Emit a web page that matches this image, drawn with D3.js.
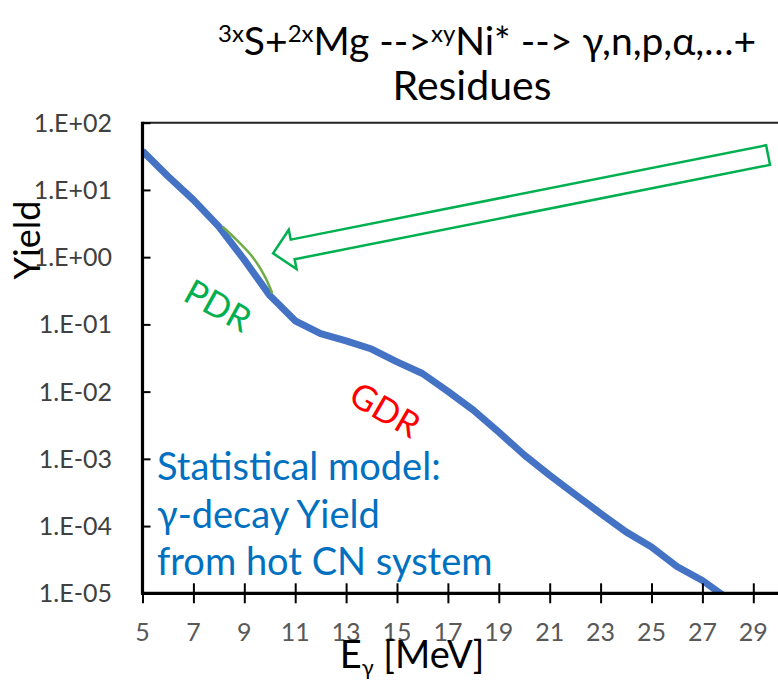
<!DOCTYPE html>
<html>
<head>
<meta charset="utf-8">
<script src="https://cdn.jsdelivr.net/npm/d3@7"></script>
<style>
  body { margin: 0; background: #fff; }
  svg text { font-family: Lato, "Open Sans", sans-serif; }
</style>
</head>
<body>
<div id="chart"></div>
<script>
// gamma yield from statistical model
var energies = [5, 6, 7, 8, 9, 10, 11, 12, 13, 14, 15, 16, 17, 18, 19, 20, 21, 22, 23, 24, 25, 26, 27, 28];
var yields = [38, 16, 7.1, 2.84, 0.91, 0.27, 0.113, 0.073, 0.057, 0.043, 0.0277, 0.0186, 0.0101, 0.0053,
  0.0025, 0.00114, 5.7e-4, 2.95e-4, 1.54e-4, 8.2e-5, 4.9e-5, 2.5e-5, 1.55e-5, 8.3e-6];

// PDR bump (green thin curve)
var pdrE = [8.15, 8.74, 9.33, 9.78, 10.1];
var pdrY = [2.83, 1.74, 1.0, 0.54, 0.29];

// arrow from the tail (top right) to the tip
var arrowTail = { e: 29.58, y: 33 };
var arrowTip = { e: 10.13, y: 1.14 };

var xTicks = [5, 7, 9, 11, 13, 15, 17, 19, 21, 23, 25, 27, 29];
var yTicks = [1e2, 1e1, 1e0, 1e-1, 1e-2, 1e-3, 1e-4, 1e-5];

var width = 778, height = 683;
var margin = { left: 142.5, right: 0, top: 122.7, bottom: 90 };

var svg = d3.select("#chart").append("svg")
  .attr("width", width)
  .attr("height", height);

var x = d3.scaleLinear().domain([5, 30]).range([margin.left, margin.left + 25 * 25.45]);
var y = d3.scaleLog().domain([1e-5, 1e2]).range([593.3, margin.top]);

function fmtExp(v) {
  var p = Math.round(Math.log10(v));
  var s = p < 0 ? "-" : "+";
  var a = Math.abs(p);
  return "1.E" + s + (a < 10 ? "0" : "") + a;
}

// clip region for the plot area
svg.append("clipPath").attr("id", "plotclip")
  .append("rect")
  .attr("x", x(5))
  .attr("y", y(1e2))
  .attr("width", width - x(5))
  .attr("height", y(1e-5) - y(1e2));

// top border line
svg.append("line")
  .attr("x1", x(5)).attr("x2", width)
  .attr("y1", y(1e2)).attr("y2", y(1e2))
  .attr("stroke", "#222").attr("stroke-width", 2);

// main curve
var line = d3.line()
  .x(function (d) { return x(d[0]); })
  .y(function (d) { return y(d[1]); });

svg.append("path")
  .datum(d3.zip(energies, yields))
  .attr("clip-path", "url(#plotclip)")
  .attr("fill", "none")
  .attr("stroke", "#4472C4")
  .attr("stroke-width", 7)
  .attr("stroke-linejoin", "round")
  .attr("d", line);

// PDR bump
svg.append("path")
  .datum(d3.zip(pdrE, pdrY))
  .attr("fill", "none")
  .attr("stroke", "#70AD47")
  .attr("stroke-width", 2.5)
  .attr("d", line.curve(d3.curveCatmullRom));

// y axis (ticks inside)
var yAxis = svg.append("g")
  .attr("transform", "translate(" + x(5) + ",0)")
  .call(d3.axisRight(y).tickValues(yTicks).tickSize(8).tickFormat(""));
yAxis.select(".domain").remove();
yAxis.selectAll(".tick line").attr("stroke", "#000").attr("stroke-width", 2);

svg.append("line")
  .attr("x1", x(5)).attr("x2", x(5))
  .attr("y1", y(1e2) - 1).attr("y2", y(1e-5) + 1.5)
  .attr("stroke", "#000").attr("stroke-width", 3.2);

svg.selectAll(".ylab")
  .data(yTicks)
  .enter()
  .append("text")
  .attr("class", "ylab")
  .attr("x", 112)
  .attr("y", function (d) { return y(d) + 9; })
  .attr("text-anchor", "end")
  .attr("fill", "#404040")
  .style("font-size", "25px")
  .text(fmtExp);

// x axis (cross ticks)
var xAxis = svg.append("g")
  .attr("transform", "translate(0," + y(1e-5) + ")")
  .call(d3.axisBottom(x).tickValues(xTicks).tickSize(10).tickFormat(""));
xAxis.select(".domain").remove();
xAxis.selectAll(".tick line")
  .attr("y1", -10)
  .attr("stroke", "#000").attr("stroke-width", 2);

svg.append("line")
  .attr("x1", x(5) - 1.5).attr("x2", width)
  .attr("y1", y(1e-5)).attr("y2", y(1e-5))
  .attr("stroke", "#000").attr("stroke-width", 3.2);

svg.selectAll(".xlab")
  .data(xTicks)
  .enter()
  .append("text")
  .attr("class", "xlab")
  .attr("x", function (d) { return x(d); })
  .attr("y", 641)
  .attr("text-anchor", "middle")
  .attr("fill", "#595959")
  .style("font-size", "25px")
  .text(function (d) { return d; });

// arrow (hollow block arrow)
var tx = x(arrowTip.e), ty = y(arrowTip.y);
var sx = x(arrowTail.e), sy = y(arrowTail.y);
var len = Math.hypot(tx - sx, ty - sy);
var ux = (tx - sx) / len, uy = (ty - sy) / len;
var nx = -uy, ny = ux;
var headLen = 20, headW = 20, shaftW = 10;
var bx = tx - ux * headLen, by = ty - uy * headLen;
var arrowPts = [
  [sx + nx * shaftW, sy + ny * shaftW],
  [bx + nx * shaftW, by + ny * shaftW],
  [bx + nx * headW, by + ny * headW],
  [tx, ty],
  [bx - nx * headW, by - ny * headW],
  [bx - nx * shaftW, by - ny * shaftW],
  [sx - nx * shaftW, sy - ny * shaftW]
];
svg.append("polygon")
  .attr("points", arrowPts.map(function (p) { return p.join(","); }).join(" "))
  .attr("fill", "#fff")
  .attr("stroke", "#00B050")
  .attr("stroke-width", 2.5);

// labels in plot
svg.append("text")
  .attr("transform", "translate(" + x(7.73) + "," + y(0.131) + ") rotate(29)")
  .attr("text-anchor", "middle")
  .attr("fill", "#00B050")
  .style("font-size", "35px")
  .text("PDR");

svg.append("text")
  .attr("transform", "translate(" + x(14.29) + "," + y(0.0037) + ") rotate(30)")
  .attr("text-anchor", "middle")
  .attr("fill", "#FF0000")
  .style("font-size", "35px")
  .text("GDR");

var note = ["Statistical model:", "\u03B3-decay Yield", "from hot CN system"];
svg.selectAll(".note")
  .data(note)
  .enter()
  .append("text")
  .attr("class", "note")
  .attr("x", 157)
  .attr("y", function (d, i) { return 480 + i * 47.5; })
  .attr("fill", "#0070C0")
  .style("font-size", "38px")
  .text(function (d) { return d; });

// axis titles
svg.append("text")
  .attr("transform", "translate(40,240) rotate(-90)")
  .attr("text-anchor", "middle")
  .attr("fill", "#000")
  .style("font-size", "36px")
  .text("Yield");

var xt = svg.append("text")
  .attr("x", 412)
  .attr("y", 668)
  .attr("text-anchor", "middle")
  .attr("fill", "#000")
  .style("font-size", "38px");
xt.append("tspan").text("E");
xt.append("tspan").attr("dy", 7).style("font-size", "22px").text("\u03B3");
xt.append("tspan").attr("dy", -7).text(" [MeV]");

// title with superscripts
var title = svg.append("text")
  .attr("x", 487)
  .attr("y", 55)
  .attr("text-anchor", "middle")
  .attr("fill", "#000")
  .style("font-size", "39px");
var parts = [
  ["3x", true], ["S+", false], ["2x", true], ["Mg -->", false], ["xy", true],
  ["Ni* --> \u03B3,n,p,\u03B1,\u2026+", false]
];
var prevSup = false;
parts.forEach(function (p) {
  var t = title.append("tspan").text(p[0]);
  if (p[1]) {
    t.style("font-size", "24px").attr("dy", prevSup ? 0 : -13);
  } else {
    t.attr("dy", prevSup ? 13 : 0);
  }
  prevSup = p[1];
});

svg.append("text")
  .attr("x", 472)
  .attr("y", 100)
  .attr("text-anchor", "middle")
  .attr("fill", "#000")
  .style("font-size", "41px")
  .text("Residues");
</script>
</body>
</html>
